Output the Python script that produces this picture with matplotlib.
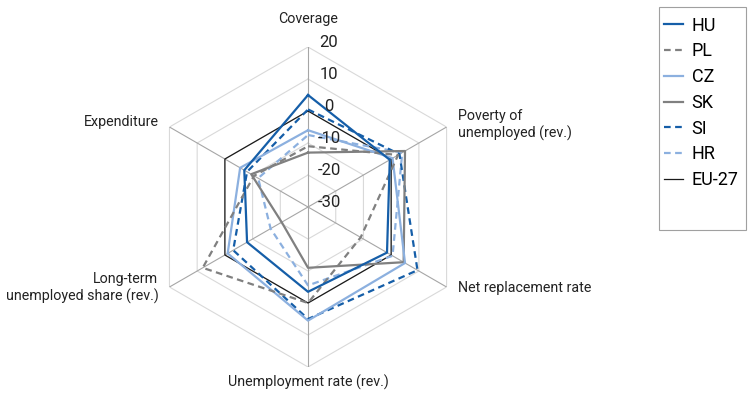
import numpy as np
import matplotlib.pyplot as plt
from matplotlib.lines import Line2D
from matplotlib.patches import Rectangle

plt.rcParams['font.family'] = ['Roboto', 'DejaVu Sans']

# radar axes, clockwise from the top
categories = ['Coverage', 'Poverty of\nunemployed (rev.)', 'Net replacement rate',
              'Unemployment rate (rev.)', 'Long-term\nunemployed share (rev.)', 'Expenditure']
countries = ['HU', 'PL', 'CZ', 'SK', 'SI', 'HR', 'EU-27']

hu = [5, -0.5, -1.5, -3.5, -8, -7]
pl = [-11, 2.5, -11, 0, 8, -10.5]
cz = [-6, 0.5, 5, 5.5, -1, -5.5]
sk = [-13, 5, 4.5, -11, -20.5, -9.5]
si = [0.5, 3, 9.5, 5, -3, -8]
hr = [-7.5, 4, 0.5, -5.5, -16.5, -12]
eu = [0, 0, 0, 0, 0, 0]

ticks = [20, 10, 0, -10, -20, -30]
rmin, rmax = -30, 20

dark_blue = '#155ea8'
light_blue = '#8cb0df'
grey = '#808080'

styles = {
    'HU': dict(color=dark_blue, ls='-', lw=1.6),
    'PL': dict(color=grey, ls=(0, (3, 2)), lw=1.6),
    'CZ': dict(color=light_blue, ls='-', lw=1.6),
    'SK': dict(color=grey, ls='-', lw=1.6),
    'SI': dict(color=dark_blue, ls=(0, (3, 2)), lw=1.6),
    'HR': dict(color=light_blue, ls=(0, (3, 2)), lw=1.6),
    'EU-27': dict(color='#1a1a1a', ls='-', lw=0.9),
}
series = {'HU': hu, 'PL': pl, 'CZ': cz, 'SK': sk, 'SI': si, 'HR': hr, 'EU-27': eu}

n = len(categories)
theta = np.linspace(0, 2 * np.pi, n, endpoint=False)
theta_c = np.append(theta, theta[0])

fig = plt.figure(figsize=(7.48, 3.94), dpi=100)
ax = fig.add_axes([0.1979, 0.0685, 0.4278, 0.8122], projection='polar')
ax.set_theta_zero_location('N')
ax.set_theta_direction(-1)
ax.set_ylim(rmin, rmax)
ax.grid(False)
ax.spines['polar'].set_visible(False)
ax.set_xticks([])
ax.set_yticks([])

# hexagonal grid
for lev in ticks[:-1]:
    ax.plot(theta_c, [lev] * (n + 1), color='#d9d9d9', lw=0.8, zorder=1)
for t in theta:
    ax.plot([t, t], [rmin, rmax], color='#a6a6a6', lw=0.8, zorder=1)

# series, EU-27 first so the country lines sit above it
for c in countries[::-1]:
    vals = series[c] + series[c][:1]
    ax.plot(theta_c, vals, zorder=3, **styles[c])

# radial tick labels along the top spoke
for lev in ticks:
    ax.annotate(str(lev), xy=(0, lev), xytext=(21, 5), textcoords='offset pixels',
                ha='center', va='center', fontsize=12, color='#222222')

# category labels
label_pos = [((0, 28), 'center'), ((11, 2), 'left'), ((11, -1), 'left'),
             ((0, -15), 'center'), ((-11, -1), 'right'), ((-11, 5), 'right')]
for t, lab, (off, ha) in zip(theta, categories, label_pos):
    ax.annotate(lab, xy=(t, rmax), xytext=off, textcoords='offset pixels',
                ha=ha, va='center', fontsize=10.3, color='#222222',
                multialignment=ha if ha != 'center' else 'center')

# legend in a tall box at the right
handles = [Line2D([], [], **styles[c]) for c in countries]
W, H = 748, 394
fig.add_artist(Rectangle((659 / W, 1 - 230 / H), 87 / W, 223 / H,
                         transform=fig.transFigure, fill=False,
                         edgecolor='#a0a0a0', lw=0.8))
fig.legend(handles, countries, loc='upper left',
           bbox_to_anchor=(660 / W, 1 - 13 / H), frameon=False,
           fontsize=13, handlelength=1.1, handletextpad=0.45,
           labelspacing=0.43, borderpad=0.2, borderaxespad=0)

fig.savefig('out.png', dpi=100)
